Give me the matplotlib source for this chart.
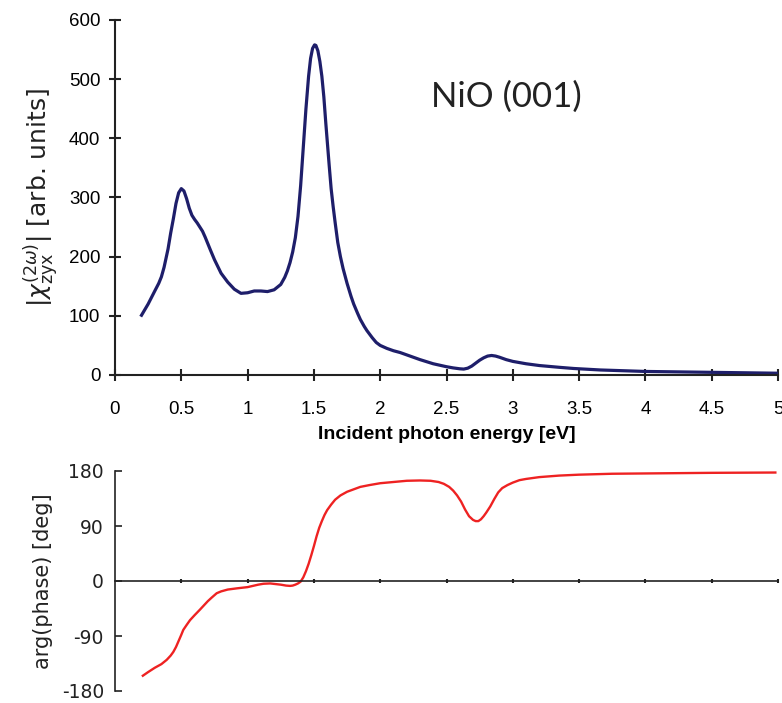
import matplotlib
matplotlib.use("Agg")
import matplotlib.pyplot as plt

# --- data ---
energy_mag = [0.20, 0.25, 0.30, 0.33, 0.35, 0.37, 0.40, 0.42, 0.44, 0.46, 0.48, 0.50,
              0.52, 0.54, 0.56, 0.58, 0.60, 0.62, 0.64, 0.66, 0.68, 0.70, 0.72, 0.75,
              0.80, 0.85, 0.90, 0.95, 1.00, 1.05, 1.10, 1.15, 1.20, 1.25, 1.28, 1.30,
              1.32, 1.34, 1.36, 1.38, 1.40, 1.42, 1.44, 1.46, 1.475, 1.49, 1.505, 1.515,
              1.53, 1.545, 1.56, 1.575, 1.59, 1.60, 1.615, 1.63, 1.645, 1.66, 1.68, 1.70,
              1.72, 1.75, 1.78, 1.80, 1.83, 1.85, 1.88, 1.90, 1.94, 1.97, 2.00, 2.05,
              2.10, 2.15, 2.20, 2.30, 2.40, 2.50, 2.55, 2.60, 2.63, 2.66, 2.69, 2.72,
              2.75, 2.78, 2.81, 2.84, 2.87, 2.90, 2.95, 3.00, 3.10, 3.20, 3.35, 3.46,
              3.66, 4.00, 4.50, 5.00]
chi_mag = [101, 120, 142, 155, 166, 182, 213, 240, 264, 290, 308, 315,
           311, 298, 282, 270, 263, 257, 250, 243, 233, 222, 211, 195,
           172, 157, 145, 138, 139, 142, 142, 141, 144, 153, 165, 176,
           190, 208, 232, 268, 320, 385, 450, 505, 535, 552, 558, 557,
           548, 530, 505, 470, 425, 397, 355, 315, 285, 258, 224, 200,
           180, 155, 133, 120, 104, 94, 82, 75, 63, 55, 50, 45,
           41, 38, 34, 26, 19, 14, 12, 10.5, 10, 11.5, 15, 20,
           25, 29, 32, 33, 32, 30, 26, 23, 19, 16, 13, 11,
           8.5, 6, 4.5, 3]

energy_ph = [0.21, 0.25, 0.30, 0.35, 0.39, 0.42, 0.44, 0.46, 0.48, 0.50, 0.515, 0.54,
             0.566, 0.60, 0.64, 0.67, 0.70, 0.73, 0.767, 0.80, 0.85, 0.92, 1.00, 1.04,
             1.08, 1.12, 1.17, 1.21, 1.25, 1.29, 1.32, 1.34, 1.36, 1.38, 1.40, 1.42,
             1.44, 1.46, 1.48, 1.50, 1.52, 1.54, 1.56, 1.58, 1.60, 1.63, 1.66, 1.70,
             1.75, 1.80, 1.85, 1.92, 2.00, 2.10, 2.20, 2.30, 2.38, 2.44, 2.48, 2.52,
             2.55, 2.58, 2.61, 2.64, 2.67, 2.70, 2.72, 2.74, 2.76, 2.78, 2.80, 2.83,
             2.86, 2.89, 2.92, 2.96, 3.00, 3.05, 3.10, 3.20, 3.35, 3.50, 3.75, 4.00,
             4.50, 4.98]
phase_deg = [-155, -149, -142, -136, -129, -122, -116, -108, -98, -88, -80, -72,
             -64, -56, -47, -40, -33, -27, -20, -17, -14, -12, -10, -8,
             -6, -4.5, -4, -5, -6, -7.5, -8, -7.5, -6, -4, -1, 6,
             16, 28, 42, 57, 73, 87, 98, 108, 116, 125, 133, 140,
             146, 150, 154, 157, 160, 162, 164, 164.5, 164, 162, 159, 154,
             148, 140, 130, 117, 106, 100, 98, 98, 101, 106, 112, 122,
             134, 145, 152, 157, 161, 165, 167, 170, 172.5, 174, 175.5, 176,
             177, 177.5]

mag_xticks = [0, 0.5, 1, 1.5, 2, 2.5, 3, 3.5, 4, 4.5, 5]
mag_xticklabels = ["0", "0.5", "1", "1.5", "2", "2.5", "3", "3.5", "4", "4.5", "5"]
mag_yticks = [0, 100, 200, 300, 400, 500, 600]
ph_yticks = [-180, -90, 0, 90, 180]

W, H = 782, 703
fig = plt.figure(figsize=(W / 100, H / 100), dpi=100)

sans = ["Liberation Sans", "DejaVu Sans"]

# --- top panel ---
ax1 = fig.add_axes([115 / W, 1 - 375 / H, (778 - 115) / W, (375 - 20) / H])
ax1.plot(energy_mag, chi_mag, color="#1e1e6a", lw=2.3, solid_joinstyle="round")
ax1.set_xlim(0, 5)
ax1.set_ylim(0, 600)
for s in ["top", "right"]:
    ax1.spines[s].set_visible(False)
for s in ["left", "bottom"]:
    ax1.spines[s].set_linewidth(1.5)
    ax1.spines[s].set_color("#222222")
ax1.set_xticks(mag_xticks)
ax1.set_xticklabels(mag_xticklabels, fontfamily=sans, fontsize=13.5)
ax1.set_yticks(mag_yticks)
ax1.set_yticklabels([str(v) for v in mag_yticks], fontfamily=sans, fontsize=13.5)
ax1.tick_params(direction="inout", length=9, width=1.5, color="#222222", pad=6)
ax1.tick_params(axis="x", pad=14)
ax1.set_xlabel("Incident photon energy [eV]", fontfamily=sans, fontsize=14,
               fontweight="bold", labelpad=6)
ax1.set_ylabel(r"$|\chi^{(2\omega)}_{\mathrm{zyx}}|$ [arb. units]", fontsize=18,
               labelpad=6, fontfamily="DejaVu Sans", color="#222222")
ax1.text(0.477, 0.785, "NiO (001)", transform=ax1.transAxes, fontsize=25,
         fontfamily=["Lato", "DejaVu Sans"], color="#222222", ha="left", va="center")

# --- bottom panel ---
ax2 = fig.add_axes([115 / W, 1 - 691 / H, (778 - 115) / W, (691 - 471) / H])
ax2.plot(energy_ph, phase_deg, color="#ee2222", lw=1.7, solid_joinstyle="round")
ax2.set_xlim(0, 5)
ax2.set_ylim(-180, 180)
for s in ["top", "right"]:
    ax2.spines[s].set_visible(False)
ax2.spines["bottom"].set_position(("data", 0))
ax2.spines["bottom"].set_linewidth(1.2)
ax2.spines["left"].set_linewidth(1.2)
ax2.spines["bottom"].set_color("#222222")
ax2.spines["left"].set_color("#222222")
ax2.set_xticks(mag_xticks[1:])
ax2.set_xticklabels([])
ax2.tick_params(axis="x", direction="inout", length=3, width=1.5, color="#222222")
ax2.set_yticks(ph_yticks)
ax2.set_yticklabels([str(v) for v in ph_yticks], fontsize=13.5,
                    fontfamily=["DejaVu Sans"], color="#222222")
ax2.tick_params(axis="y", direction="in", length=5, width=1.2, color="#222222", pad=8)
ax2.set_ylabel("arg(phase) [deg]", fontsize=15, fontfamily=["DejaVu Sans"],
               color="#222222", labelpad=6)

fig.savefig("out.png", dpi=100)
